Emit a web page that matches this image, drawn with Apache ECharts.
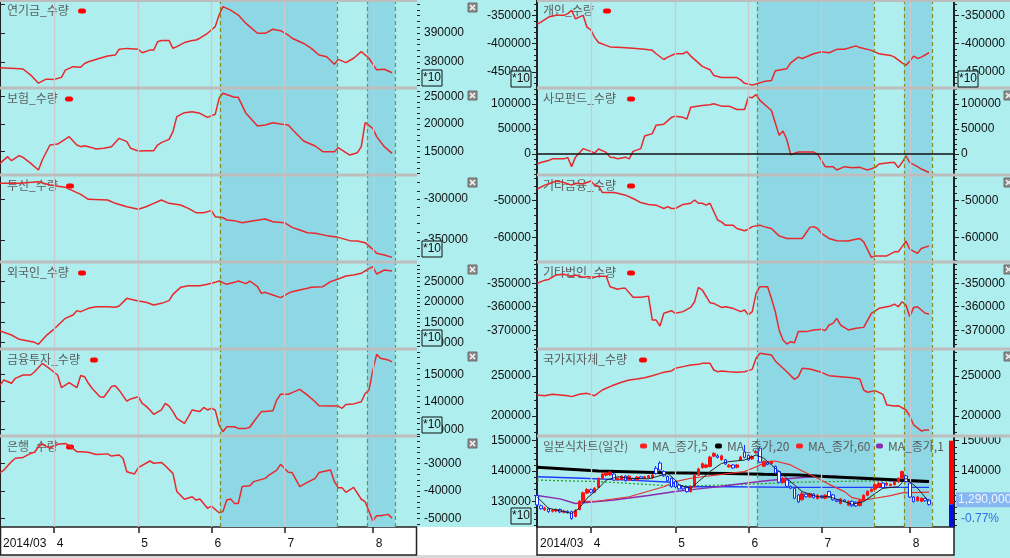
<!DOCTYPE html>
<html><head><meta charset="utf-8">
<script src="https://cdn.jsdelivr.net/npm/echarts@6/dist/echarts.min.js"></script>
<style>html,body{margin:0;padding:0;background:#fff}#c{width:1010px;height:558px}</style>
</head><body><div id="c"></div><script>
// ---------- x positions are trading-day indexes (0 = 2014-03-12) ----------
const monthTicks = [[0,'2014/03'],[14,'4'],[36,'5'],[55,'6'],[74,'7'],[97,'8']];
const zones = [[57.2,87.7],[95.5,102.8]];

// ---------- left column series ----------
const pension = [[0,378000],[4,377800],[6,377600],[8,375500],[10,372700],[12,374100],[14,374000],[16,374700],[17,377200],[19,378400],[21,378200],[22,379500],[23,380100],[26,381300],[28,382100],[30,382400],[31,384400],[33,384700],[36,384400],[37,383200],[39,384100],[40,384100],[41,387000],[42,387400],[44,387400],[45,384700],[46,385300],[48,386700],[50,387400],[51,387600],[52,388200],[54,389900],[56,392200],[57,396200],[58,399100],[60,397900],[62,396200],[64,393300],[67,389900],[69,389900],[71,391300],[73,390800],[75,389300],[76,388200],[79,386400],[81,384700],[83,382400],[85,381800],[87,379200],[88,380900],[90,379800],[92,381300],[94,383600],[96,381300],[98,377300],[100,377500],[102,376300]];
const insurance = [[0,128500],[2,140600],[3,133300],[5,142400],[6,139400],[8,128500],[10,116400],[11,134600],[13,161800],[15,163600],[18,177000],[20,161800],[21,158800],[22,160600],[24,157000],[25,154600],[27,155800],[29,158800],[31,173900],[33,167900],[34,155800],[36,150900],[38,151500],[40,151500],[41,161800],[42,166100],[44,172100],[45,186100],[46,213300],[48,220600],[50,222400],[52,219400],[54,212100],[56,217600],[57,246700],[58,255800],[61,248500],[62,248500],[64,219400],[66,204200],[67,196400],[69,198200],[71,202400],[73,200000],[75,198200],[76,190300],[79,169100],[82,160000],[84,149700],[87,149700],[88,157000],[91,143600],[93,147900],[94,158800],[95,202400],[97,192100],[98,177000],[100,158800],[102,146700]];
const trust = [[0,-280900],[5,-280900],[10,-278900],[13,-282900],[16,-285000],[17,-285800],[21,-294300],[23,-300400],[28,-301200],[30,-305300],[33,-309400],[36,-312600],[38,-309400],[40,-305300],[42,-301200],[44,-305300],[47,-307300],[49,-311400],[51,-316700],[53,-316700],[55,-314200],[56,-321600],[58,-322800],[59,-325600],[61,-326400],[63,-328900],[66,-326400],[69,-324400],[71,-327700],[74,-328900],[76,-334600],[78,-337800],[80,-341100],[82,-341900],[85,-344700],[88,-346800],[91,-350800],[93,-351200],[95,-353300],[97,-361400],[98,-366300],[100,-368300],[102,-371200]];
const foreign = [[0,128600],[3,118700],[5,108000],[7,104800],[9,100700],[10,95700],[12,117100],[14,132700],[17,159800],[19,168000],[20,178700],[21,176200],[23,184400],[25,188500],[28,188500],[30,186900],[31,190100],[33,209000],[34,206600],[36,202500],[38,199200],[40,192600],[42,196700],[44,203300],[45,218900],[47,236100],[49,240200],[52,240200],[54,243500],[56,248400],[57,251700],[59,243500],[61,248400],[62,251700],[64,245200],[65,251700],[67,237800],[68,221300],[69,223800],[71,217200],[73,210700],[75,221300],[76,225500],[78,229600],[80,233700],[81,236100],[84,237800],[86,250100],[88,256600],[90,264000],[92,266500],[94,270600],[95,276400],[96,282000],[97,287000],[98,269000],[100,278800],[102,276400]];
const finInvest = [[0,146100],[1,147900],[3,146700],[4,148500],[6,149700],[8,149700],[9,150900],[11,153900],[13,151900],[15,149700],[16,145100],[18,146900],[20,145100],[21,149500],[22,149100],[23,146700],[24,144800],[26,141800],[27,141600],[29,145500],[30,145800],[31,144200],[33,140200],[34,141000],[36,141800],[37,139400],[38,138400],[39,137000],[40,135400],[42,137000],[43,139400],[44,138400],[45,136400],[46,133900],[48,132100],[49,134500],[50,137000],[52,136400],[53,137900],[54,137000],[55,137600],[56,137000],[57,131500],[58,129100],[59,130900],[61,130900],[62,130300],[64,130300],[65,130700],[66,132700],[68,136400],[69,136400],[71,136700],[72,140600],[73,142700],[75,142700],[76,143300],[78,144500],[80,142400],[82,140000],[83,138500],[86,138400],[88,138400],[89,137600],[90,139000],[92,139200],[94,140000],[95,143000],[96,144200],[97,151500],[98,157200],[99,155800],[101,155200],[102,154500]];
const bank = [[0,-33300],[1,-32400],[3,-29300],[4,-28100],[6,-27800],[8,-26300],[9,-25900],[10,-23900],[11,-23000],[13,-24500],[14,-23500],[15,-23000],[17,-22700],[18,-23500],[20,-25700],[21,-25700],[23,-25900],[25,-26700],[28,-26500],[29,-27300],[31,-26900],[32,-28100],[33,-33000],[35,-33800],[36,-31500],[39,-29100],[40,-29900],[42,-29600],[43,-30800],[45,-33600],[46,-40200],[48,-43000],[50,-42100],[51,-43300],[52,-42900],[54,-46300],[55,-45500],[57,-47900],[58,-47500],[59,-43300],[60,-42900],[61,-44500],[62,-44500],[63,-38400],[65,-38100],[66,-36600],[69,-35400],[70,-34200],[72,-32400],[73,-30300],[75,-33200],[76,-33300],[78,-38400],[79,-37600],[82,-35400],[83,-33300],[86,-32400],[87,-36600],[88,-38800],[89,-38800],[90,-40500],[92,-38700],[94,-43000],[95,-43900],[97,-50800],[98,-49000],[99,-49000],[101,-48500],[102,-49900]];

// ---------- right column series ----------
const individual = [[0,-365900],[1,-361700],[3,-352700],[5,-349700],[7,-349700],[8,-346600],[9,-340600],[10,-355700],[12,-349700],[13,-370800],[14,-375600],[15,-388800],[16,-397900],[19,-405700],[22,-406900],[25,-408100],[28,-410000],[30,-411800],[31,-417800],[33,-428000],[34,-423800],[36,-417800],[38,-417800],[39,-414200],[40,-422000],[42,-434100],[43,-440100],[45,-446100],[46,-456400],[48,-460000],[52,-460000],[53,-464200],[54,-470300],[56,-473300],[57,-471500],[59,-467200],[61,-465400],[62,-447900],[65,-444300],[66,-434100],[68,-423800],[69,-426200],[72,-417800],[74,-414200],[76,-416000],[78,-410000],[80,-410000],[83,-403900],[84,-406900],[87,-411800],[89,-417800],[92,-420800],[93,-423800],[95,-434100],[96,-438300],[97,-431100],[98,-422000],[99,-426200],[100,-423800],[102,-416000]];
const pef = [[0,-19900],[1,-17100],[3,-13100],[4,-9700],[6,-9700],[7,-9700],[8,-6900],[9,-25300],[10,-6300],[12,10700],[14,5300],[15,1900],[16,10100],[18,3300],[19,-6300],[20,-6900],[21,-9700],[23,-6300],[24,-9700],[25,5300],[27,10700],[28,35900],[30,40700],[31,57700],[33,59700],[35,73300],[36,75300],[38,73300],[39,69900],[40,93700],[43,97100],[45,98500],[46,100500],[48,95700],[50,95700],[52,88900],[54,88900],[55,114100],[56,112700],[57,118900],[58,107300],[61,86900],[63,37300],[64,46100],[65,29100],[66,-1500],[68,3900],[69,3900],[72,3900],[73,-100],[75,-25300],[77,-25300],[78,-32100],[80,-25300],[82,-27300],[84,-26700],[86,-32100],[88,-26700],[89,-19900],[92,-17100],[93,-17100],[94,-27300],[95,-17100],[96,-3500],[97,-17100],[99,-25300],[100,-30100],[102,-36900]];
const otherFin = [[0,-46900],[2,-45800],[3,-45500],[5,-44700],[7,-45100],[9,-45800],[10,-45300],[12,-45500],[14,-44700],[15,-45800],[16,-46000],[17,-47800],[20,-47800],[21,-48000],[23,-48500],[25,-49400],[27,-50500],[29,-51000],[31,-51200],[33,-52100],[34,-51600],[35,-52100],[36,-52100],[38,-51000],[40,-50700],[41,-49800],[42,-50700],[43,-50700],[44,-51200],[45,-50700],[47,-55200],[48,-55700],[49,-56600],[51,-56600],[52,-57500],[54,-58100],[55,-57700],[56,-57000],[58,-56600],[59,-57000],[61,-57500],[63,-59500],[65,-60200],[67,-60200],[69,-60200],[71,-57200],[72,-57000],[73,-57500],[74,-58800],[76,-60200],[78,-60800],[81,-60900],[82,-60600],[84,-60200],[85,-61100],[87,-65300],[88,-64900],[90,-64900],[91,-64900],[93,-63800],[94,-63800],[95,-62400],[96,-60900],[97,-63100],[99,-64200],[100,-62900],[102,-62200]];
const otherCorp = [[0,-350100],[2,-348700],[3,-348400],[5,-346500],[7,-346200],[9,-347200],[10,-346500],[12,-347500],[13,-347200],[15,-347500],[16,-347000],[18,-347000],[19,-351500],[21,-352600],[22,-352200],[23,-352200],[25,-356000],[27,-356000],[29,-355500],[30,-365700],[31,-365700],[32,-368200],[33,-362800],[35,-361700],[36,-362800],[38,-362100],[40,-360300],[41,-357900],[42,-351800],[43,-352900],[45,-358300],[46,-358600],[48,-360300],[49,-360000],[51,-360700],[53,-362100],[54,-361400],[55,-363500],[56,-362100],[57,-354300],[58,-351500],[60,-351500],[61,-356500],[62,-362100],[63,-369900],[64,-374200],[65,-375900],[66,-374900],[67,-375300],[68,-370600],[70,-370600],[72,-369900],[74,-369600],[75,-370200],[76,-367800],[77,-367100],[78,-365000],[79,-367800],[81,-369900],[83,-369200],[85,-368800],[87,-362800],[89,-360700],[90,-360300],[92,-359700],[93,-358900],[94,-360000],[95,-357900],[96,-359300],[97,-364300],[98,-360300],[99,-360000],[101,-362800],[102,-363100]];
const govt = [[0,226300],[2,225400],[4,227100],[6,226300],[8,225400],[9,224200],[11,227100],[13,228300],[15,225400],[17,232500],[19,236700],[20,238800],[22,242100],[24,245000],[26,246300],[28,247900],[30,250400],[32,253300],[33,254600],[35,256300],[36,259600],[38,261700],[40,263800],[42,264600],[43,265800],[45,265800],[46,257500],[47,255400],[48,256300],[50,255400],[52,254600],[54,255400],[56,258300],[57,272100],[58,278300],[61,276300],[62,268800],[65,255400],[67,245800],[68,249200],[69,259600],[71,258800],[74,254600],[76,250400],[79,249200],[82,247900],[84,246300],[85,232500],[86,229600],[88,231700],[90,227100],[91,213800],[93,212500],[94,212900],[96,207500],[97,200000],[98,188800],[100,181300],[101,182500],[102,182500]];

// ---------- daily candles: [open, close, low, high], index = trading day ----------
const candles = [
[131900,128800,128400,132300],[128500,127600,127200,128900],[127200,127800,126800,128200],[127500,126600,126200,127900],[126700,127000,126300,127400],
[126800,127300,126400,127700],[127300,126500,126100,127600],[126400,126800,126000,127200],[126700,126300,125900,127000],[126600,124300,123900,126900],
[125000,127000,124700,127400],[127300,130000,127000,130400],[130200,132800,130000,133200],[132700,133900,132400,134300],[133800,133000,132600,134200],
[133000,134300,132700,134700],[134600,137500,134400,137900],[137600,139000,137300,139500],[138600,139300,138200,139700],[138700,139600,138400,140000],
[139000,137000,136700,139300],[137000,137600,136700,138000],[137200,138300,136900,138600],[138300,136800,136500,138600],[137000,138300,136700,138600],
[137500,137000,136700,137800],[137100,138000,136800,138300],[138100,137600,137300,138400],[137600,138100,137300,138400],[137800,138400,137500,138700],
[137700,138700,137400,139000],[140900,139200,138800,141600],[142600,140300,139900,143200],[139800,138400,138000,140200],[138200,136800,136500,138500],
[137600,134800,134500,137900],[136500,134700,134300,136800],[135400,134100,133800,135700],[134800,134100,133700,135200],[134500,133200,132800,134800],
[133200,134800,132900,135100],[134800,138600,134500,139000],[138600,140700,138400,141100],[141100,142400,140800,142800],[141200,142000,140900,142400],
[141500,144600,141200,145000],[144900,145800,144500,146200],[145000,144500,144100,145600],[143700,145000,143400,145400],[143700,142300,142000,144000],
[141400,141900,141100,142300],[142000,141000,140700,142300],[141200,142000,140900,142300],[143600,144600,143300,145000],[146300,144500,144200,148600],
[145200,143700,143400,145500],[144000,144800,143700,145200],[146000,146500,145700,147000],[147500,142900,142600,148000],[141600,143100,141300,143500],
[142700,142200,141900,143000],[142500,143100,142200,143400],[141500,139300,139000,141800],[139800,136300,136000,140100],[136200,137600,135900,137900],
[137000,135000,134700,137300],[134900,134300,134000,135200],[134300,131000,130700,134600],[132100,129800,129500,132400],[130500,132500,130200,133300],
[132300,131500,131200,132600],[131400,132500,131100,132800],[132400,131200,130900,132700],[130900,132000,130600,132300],[131800,131200,130900,132100],
[131000,132000,130700,132300],[133200,131500,131200,133500],[132100,130500,130200,132400],[130400,130000,129700,130700],[129300,130800,129000,131100],
[130400,130000,129700,130700],[128700,130000,128400,130300],[130000,128500,128200,130300],[129700,128500,128200,130000],[128600,130200,128300,130500],
[130300,132000,130000,132300],[132000,133300,131700,133600],[133300,134000,133000,134300],[134000,135500,133700,135800],[134800,136000,134500,136300],
[136000,134500,134200,136300],[135400,136000,135100,136300],[135200,135600,134900,135900],[135500,136300,135200,136600],[136400,137600,136100,137900],
[137600,139800,137300,140100],[138400,136500,136200,138700],[136000,131400,131100,136300],[131400,129900,129600,131700],[130200,131400,129900,131700],
[130000,131000,129700,131300],[130900,130200,129900,131200],[130400,129000,128600,130700]];
const maFast = [[0,131500],[3,127700],[7,126600],[9,126000],[11,127700],[13,131000],[16,134300],[18,137000],[21,138100],[24,137600],[29,137400],[31,138100],[34,139200],[36,137000],[37,135400],[40,134300],[42,136500],[45,139800],[48,142500],[50,143100],[54,143600],[57,145300],[59,144200],[61,142000],[64,138700],[67,135400],[69,133200],[73,131500],[76,131500],[80,129900],[82,129000],[85,129900],[88,132600],[90,134300],[94,134800],[96,137600],[99,134300],[102,129900]];
const maThick = [[0,141200],[16,140000],[33,139400],[50,139200],[59,138900],[68,138700],[76,138100],[85,137600],[94,137000],[102,136500]];
const maRed = [[11,129900],[16,130100],[24,131500],[33,134800],[36,136500],[40,137600],[43,138100],[47,138700],[50,139200],[54,139800],[57,141400],[60,143100],[62,143300],[66,142000],[69,140000],[73,137600],[76,135600],[80,133200],[82,131200],[85,130400],[88,131000],[92,131900],[95,132800],[102,133000]];
const maPurple = [[0,131900],[6,130800],[10,129300],[20,130400],[29,131900],[36,133200],[42,134100],[47,134800],[52,135600],[59,136700],[68,137800],[76,138400],[85,137400],[94,136700],[102,136300]];
const levelBlue = [[0,138100],[12,137600],[24,137000],[35,136300],[37,134800],[50,134800],[68,134600],[102,134600]];
const levelGreen = [[0,137000],[16,136500],[36,135000],[50,135400],[68,136300],[85,136700],[102,136700]];
const lastPrice = 129000, lastLabel = '1,290,000', lastChange = '-0.77%';

// ---------- axis ticks ----------
const pensionTicks=[380000,390000,400000], pensionLabels=[380000,390000];
const insuranceTicks=[150000,200000,250000];
const trustTicks=[-350000,-300000];
const foreignTicks=[100000,150000,200000,250000];
const finInvestTicks=[130000,140000,150000];
const bankTicks=[-50000,-40000,-30000,-20000], bankLabels=[-50000,-40000,-30000];
const individualTicks=[-450000,-400000,-350000];
const pefTicks=[0,50000,100000];
const otherFinTicks=[-60000,-50000];
const otherCorpTicks=[-370000,-360000,-350000];
const govtTicks=[200000,250000];
const priceTicks=[130000,140000,150000];

// ---------- layout ----------
const BG='#AFEEEE', ZONE='#8ED8E5', RED='#E8282C', AXC='#111111';
const NUMF='"Liberation Sans", Arial, sans-serif', KF='"Noto Sans CJK KR", sans-serif';
const X_MAX=108.5;
const panels = [
 {side:'L',title:'연기금_수량',data:pension,top:0,h:88,min:371040,max:401380,ticks:pensionTicks,labels:pensionLabels,minor:2000,mk:78,xbox:true},
 {side:'L',title:'보험_수량',data:insurance,top:88,h:87,min:107300,max:265450,ticks:insuranceTicks,labels:insuranceTicks,minor:10000,mk:65,xbox:true},
 {side:'L',title:'투신_수량',data:trust,top:175,h:87,min:-376860,max:-270720,ticks:trustTicks,labels:trustTicks,minor:10000,mk:66,xbox:true},
 {side:'L',title:'외국인_수량',data:foreign,top:262,h:87,min:84240,max:298520,ticks:foreignTicks,labels:foreignTicks,minor:10000,mk:78,xbox:true},
 {side:'L',title:'금융투자_수량',data:finInvest,top:349,h:87,min:127530,max:159160,ticks:finInvestTicks,labels:finInvestTicks,minor:2000,mk:90,xbox:true},
 {side:'L',title:'은행_수량',data:bank,top:436,h:91,min:-53090,max:-20000,ticks:bankTicks,labels:bankLabels,minor:2000,mk:66,xbox:true},
 {side:'R',title:'개인_수량',data:individual,top:0,h:88,min:-478540,max:-322520,ticks:individualTicks,labels:individualTicks,minor:10000,mk:603,xbox:false},
 {side:'R',title:'사모펀드_수량',data:pef,top:88,h:87,min:-42000,max:132000,ticks:pefTicks,labels:pefTicks,minor:10000,mk:627,zero:true,xbox:true},
 {side:'R',title:'기타금융_수량',data:otherFin,top:175,h:87,min:-66550,max:-43060,ticks:otherFinTicks,labels:otherFinTicks,minor:2000,mk:627,xbox:true},
 {side:'R',title:'기타법인_수량',data:otherCorp,top:262,h:87,min:-378000,max:-340980,ticks:otherCorpTicks,labels:otherCorpTicks,minor:2000,mk:627,xbox:true},
 {side:'R',title:'국가지자체_수량',data:govt,top:349,h:87,min:175000,max:283750,ticks:govtTicks,labels:govtTicks,minor:10000,mk:639,xbox:true},
 {side:'R',title:null,data:null,top:436,h:91,min:121520,max:151550,ticks:priceTicks,labels:priceTicks,minor:2000,candle:true,xbox:false}
];

const grids=[],xAxes=[],yAxes=[],series=[];
const minorVals=p=>{const a=[];for(let v=Math.ceil(p.min/p.minor)*p.minor;v<=p.max;v+=p.minor)a.push(v);return a;};
const labelOf=v=>{const m=monthTicks.find(t=>t[0]===v);return m?m[1]:'';};
function yAx(i,p,pos,labeled){
  return {type:'value',gridIndex:i,position:pos,min:p.min,max:p.max,splitLine:{show:false},
    axisLine:{show:labeled,lineStyle:{color:'#222',width:2}},
    axisTick:{show:true,customValues:labeled?p.ticks:minorVals(p),length:labeled?5:3,lineStyle:{color:'#222',width:1}},
    axisLabel:{show:labeled,customValues:p.labels,margin:pos==='right'?7:6,color:AXC,fontSize:12,fontFamily:NUMF,formatter:v=>String(v)}};
}
panels.forEach((p,i)=>{
  const left=p.side==='L'?0:537;
  grids.push({left:left,top:p.top,width:417,height:p.h,show:false});
  const bottom=p.top===436;
  xAxes.push({type:'value',gridIndex:i,min:0,max:X_MAX,show:bottom,splitLine:{show:false},axisLine:{show:false},
    axisTick:{show:true,customValues:monthTicks.slice(1).map(m=>m[0]),length:6,lineStyle:{color:'#222',width:1.5}},
    axisLabel:{customValues:monthTicks.map(m=>m[0]),formatter:v=>labelOf(v),align:'left',padding:[0,0,0,3],margin:11,color:AXC,fontSize:12,fontFamily:NUMF}});
  const yi=yAxes.length;
  if(p.side==='L'){yAxes.push(yAx(i,p,'right',true));yAxes.push(yAx(i,p,'right',false));}
  else{yAxes.push(yAx(i,p,'left',true));yAxes.push(yAx(i,p,'left',false));yAxes.push(yAx(i,p,'right',true));yAxes.push(yAx(i,p,'right',false));}
  series.push({type:'line',xAxisIndex:i,yAxisIndex:yi,data:[[0,p.min]],symbol:'none',lineStyle:{opacity:0},z:1,silent:true,
    markArea:{silent:true,itemStyle:{color:ZONE},data:zones.map(z=>[{xAxis:z[0]},{xAxis:z[1]}])},
    markLine:{silent:true,symbol:'none',label:{show:false},animation:false,
      data:[...monthTicks.slice(1).map(m=>({xAxis:m[0],lineStyle:{color:'#CDC8CC',width:1.3,type:'solid'}})),
            ...zones.flat().map(v=>({xAxis:v,lineStyle:{color:'#8A8A20',width:1.2,type:[4,3]}}))]}});
  if(p.data){
    const s={type:'line',xAxisIndex:i,yAxisIndex:yi,data:p.data,symbol:'none',lineStyle:{color:RED,width:1.5},z:3};
    if(p.zero) s.markLine={silent:true,symbol:'none',label:{show:false},data:[{yAxis:0}],lineStyle:{color:'#111',width:1.5,type:'solid'}};
    series.push(s);
  }
  if(p.candle){
    const L=(d,c,w,extra)=>Object.assign({type:'line',xAxisIndex:i,yAxisIndex:yi,data:d,symbol:'none',lineStyle:{color:c,width:w},z:4},extra||{});
    series.push(L(levelGreen,'#2EA02E',1.3,{lineStyle:{color:'#2EA02E',width:1.3,type:[2,2]}}));
    series.push(L(levelBlue,'#1F3CFF',1.4));
    series.push(L(maPurple,'#8B2BB0',1.5));
    series.push(L(maThick,'#000',3));
    series.push(L(maRed,'#E83030',1.2));
    series.push({type:'candlestick',xAxisIndex:i,yAxisIndex:yi,data:candles.map((c,k)=>[k,c[0],c[1],c[2],c[3]]),
      encode:{x:0,y:[1,2,3,4]},barWidth:3,z:5,
      itemStyle:{color:'#FF1010',color0:'#FFFFFF',borderColor:'#FF1010',borderColor0:'#1030FF',borderWidth:1}});
    series.push(L(maFast,'#222',1,{z:6}));
  }
});

const chart=echarts.init(document.getElementById('c'));
chart.setOption({animation:false,backgroundColor:'#ffffff',grid:grids,xAxis:xAxes,yAxis:yAxes,series:series});

// ---------- decorations ----------
const g=[];
g.push({type:'rect',shape:{x:0,y:0,width:1010,height:527},style:{fill:BG},z:-20,silent:true});
g.push({type:'rect',shape:{x:954,y:527,width:56,height:31},style:{fill:BG},z:-20,silent:true});
g.push({type:'rect',shape:{x:0,y:555,width:954,height:3},style:{fill:'#D8D8D8'},z:-20,silent:true});
g.push({type:'rect',shape:{x:0.5,y:527,width:416,height:28},style:{fill:'#fff',stroke:'#222',lineWidth:1.5},z:-10,silent:true});
g.push({type:'rect',shape:{x:537,y:527,width:417,height:28},style:{fill:'#fff',stroke:'#222',lineWidth:1.5},z:-10,silent:true});
[1,88,175,262,349,436].forEach(y=>{
  g.push({type:'line',shape:{x1:0,y1:y,x2:417,y2:y},style:{stroke:'#BDBDBD',lineWidth:y===1?2:3},z:6,silent:true});
  g.push({type:'line',shape:{x1:537,y1:y,x2:1010,y2:y},style:{stroke:'#BDBDBD',lineWidth:y===1?2:3},z:6,silent:true});
});
panels.forEach(p=>{
  const tx=p.side==='L'?7:543;
  if(p.title){
    g.push({type:'text',x:tx,y:p.top+10.5,style:{text:p.title,font:'12px '+KF,fill:'#5C5C5C',verticalAlign:'middle'},z:2,silent:true});
    g.push({type:'rect',shape:{x:p.mk,y:p.top+8.5,width:8,height:5,r:2.5},style:{fill:'#FF0000'},z:2,silent:true});
  }
  if(p.xbox){
    const bx=p.side==='L'?468:1004;
    g.push({type:'group',x:bx,y:p.top+3,z:20,silent:true,children:[
      {type:'rect',shape:{x:0,y:0,width:9,height:9},style:{fill:'#8C8C8C',stroke:'#6A6A6A',lineWidth:1},z:20},
      {type:'line',shape:{x1:2,y1:2,x2:7,y2:7},style:{stroke:'#fff',lineWidth:1.2},z:21},
      {type:'line',shape:{x1:7,y1:2,x2:2,y2:7},style:{stroke:'#fff',lineWidth:1.2},z:21}]});
  }
});
function star(x,y){
  g.push({type:'rect',shape:{x:x,y:y,width:20,height:16},style:{fill:BG,stroke:'#111',lineWidth:1},z:20,silent:true});
  g.push({type:'text',x:x+10,y:y+8,style:{text:'*10',font:'12px '+NUMF,fill:'#111',align:'center',verticalAlign:'middle'},z:21,silent:true});
}
star(422,70);star(422,241);star(422,330);star(422,417);
star(511,71);star(958,71);star(511,508);
// candle legend
const lg=[['일본식차트(일간)',543,null],['MA_종가,5',652,'#FF2020'],['MA_종가,20',727,'#000'],['MA_종가,60',808,'#FF2020'],['MA_종가,1',888,'#8B2BB0']];
lg.forEach(l=>{
  g.push({type:'text',x:l[1],y:446,style:{text:l[0],font:'12px '+KF,fill:'#5C5C5C',verticalAlign:'middle'},z:7,silent:true});
  if(l[2]) g.push({type:'rect',shape:{x:l[1]-12,y:443.5,width:7,height:5,r:2},style:{fill:l[2]},z:7,silent:true});
});
// price range bar & last price label (positioned through the price axis)
const cyIdx=yAxes.length-4;
const py=v=>chart.convertToPixel({xAxisIndex:11,yAxisIndex:cyIdx},[0,v])[1];
const yTop=py(150000), ySplit=py(lastPrice), yBot=py(121520);
g.push({type:'rect',shape:{x:949,y:yTop,width:5,height:ySplit-yTop},style:{fill:'#FF0000'},z:20,silent:true});
g.push({type:'rect',shape:{x:949,y:ySplit,width:5,height:yBot-ySplit},style:{fill:'#0010E0'},z:20,silent:true});
g.push({type:'rect',shape:{x:956,y:ySplit-12,width:60,height:15},style:{fill:'#86B7F2'},z:20,silent:true});
g.push({type:'text',x:958,y:ySplit-4.5,style:{text:lastLabel,font:'12px '+NUMF,fill:'#F2F7FF',verticalAlign:'middle'},z:21,silent:true});
g.push({type:'text',x:961,y:ySplit+14,style:{text:lastChange,font:'12px '+NUMF,fill:'#2F6FE0',verticalAlign:'middle'},z:21,silent:true});
chart.setOption({graphic:g});
</script></body></html>
